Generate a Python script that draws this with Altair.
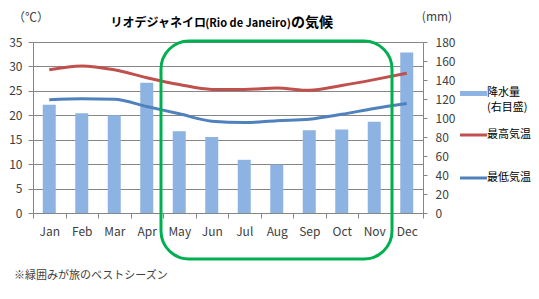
import altair as alt
import pandas as pd

months = ["Jan", "Feb", "Mar", "Apr", "May", "Jun", "Jul", "Aug", "Sep", "Oct", "Nov", "Dec"]
precip_mm = [114, 105, 103, 137, 86, 80, 56, 51, 87, 88, 96, 169]
high_c = [29.3, 30.1, 29.3, 27.7, 26.3, 25.3, 25.3, 25.6, 25.1, 26.1, 27.3, 28.6]
low_c = [23.2, 23.4, 23.3, 21.8, 20.3, 18.8, 18.5, 18.9, 19.2, 20.2, 21.4, 22.4]
series_names = ["最高気温", "最低気温"]
series_colors = ["#c0504d", "#4f81bd"]
bar_color = "#8db3e2"
FONT = "Noto Sans CJK JP"

df_bar = pd.DataFrame({"month": months, "precip": precip_mm})
df_line = pd.DataFrame({
    "month": months * 2,
    "series": [series_names[0]] * 12 + [series_names[1]] * 12,
    "temp": high_c + low_c,
})

xenc = alt.X("month:N", sort=months, title=None,
             scale=alt.Scale(paddingInner=0, paddingOuter=0),
             axis=alt.Axis(labelAngle=0, tickBand="extent", tickSize=5, labelPadding=8,
                           domainColor="#868686", tickColor="#868686",
                           labelColor="#404040", labelFont=FONT, labelFontSize=12))

bars = alt.Chart(df_bar).mark_bar(color=bar_color, width=alt.RelativeBandSize(0.4)).encode(
    x=xenc,
    y=alt.Y("precip:Q", title=None, scale=alt.Scale(domain=[0, 180], nice=False),
            axis=alt.Axis(orient="right", values=list(range(0, 181, 20)), grid=False,
                          tickSize=4, labelPadding=8, domainColor="#868686", tickColor="#868686",
                          labelColor="#404040", labelFont=FONT, labelFontSize=12)),
)

lines = alt.Chart(df_line).mark_line(strokeWidth=3, interpolate="monotone").encode(
    x=alt.X("month:N", sort=months),
    y=alt.Y("temp:Q", title=None, scale=alt.Scale(domain=[0, 35], nice=False),
            axis=alt.Axis(orient="left", values=list(range(0, 36, 5)), grid=True,
                          gridColor="#868686", tickSize=5, labelPadding=6,
                          domainColor="#868686", tickColor="#868686",
                          labelColor="#404040", labelFont=FONT, labelFontSize=12)),
    color=alt.Color("series:N", scale=alt.Scale(domain=series_names, range=series_colors), legend=None),
    detail="series:N",
)

main = alt.layer(bars, lines).resolve_scale(y="independent")

one = pd.DataFrame({"k": [0]})

def txt(text, x, y, size=12, weight="normal", align="left", color="#000000"):
    return alt.Chart(one).mark_text(text=text, font=FONT, fontSize=size, fontWeight=weight,
                                    align=align, baseline="middle", color=color).encode(
        x=alt.value(x), y=alt.value(y))

title_parts = [
    txt("リオデジャネイロ", 173, -19, 12, "bold", align="right"),
    txt("(Rio de Janeiro)", 215, -18, 11, "bold", align="center"),
    txt("の気候", 258, -19, 14, "bold", align="left"),
]
unit_l = txt("（℃）", -2, -24, 12, align="center", color="#404040")
unit_r = txt("(mm)", 404, -25, 12, align="center", color="#404040")

leg_bar = alt.Chart(one).mark_rect(color=bar_color).encode(
    x=alt.value(427), x2=alt.value(454), y=alt.value(49), y2=alt.value(54))
leg_red = alt.Chart(one).mark_rule(color=series_colors[0], strokeWidth=3).encode(
    x=alt.value(427), x2=alt.value(454), y=alt.value(93))
leg_blue = alt.Chart(one).mark_rule(color=series_colors[1], strokeWidth=3).encode(
    x=alt.value(427), x2=alt.value(454), y=alt.value(136))
leg_texts = [
    txt("降水量", 454, 51, 11),
    txt("(右目盛)", 454, 66, 11),
    txt(series_names[0], 454, 93, 11),
    txt(series_names[1], 454, 136, 11),
]
note = txt("※緑囲みが旅のベストシーズン", -19, 234, 11, color="#404040")

box = alt.Chart(one).mark_rect(fillOpacity=0, stroke="#00b050", strokeWidth=3, cornerRadius=28).encode(
    x=alt.value(128), x2=alt.value(359), y=alt.value(-1), y2=alt.value(217))

chart = alt.layer(main, box, leg_bar, leg_red, leg_blue, unit_l, unit_r, note,
                  *title_parts, *leg_texts).properties(
    width=390, height=171,
    autosize=alt.AutoSizeParams(type="none"),
    padding={"left": 33, "top": 42, "right": 116, "bottom": 86},
    background="white",
).configure_view(stroke=None)

chart.save("out.html", embed_options={"renderer": "svg", "actions": False})
